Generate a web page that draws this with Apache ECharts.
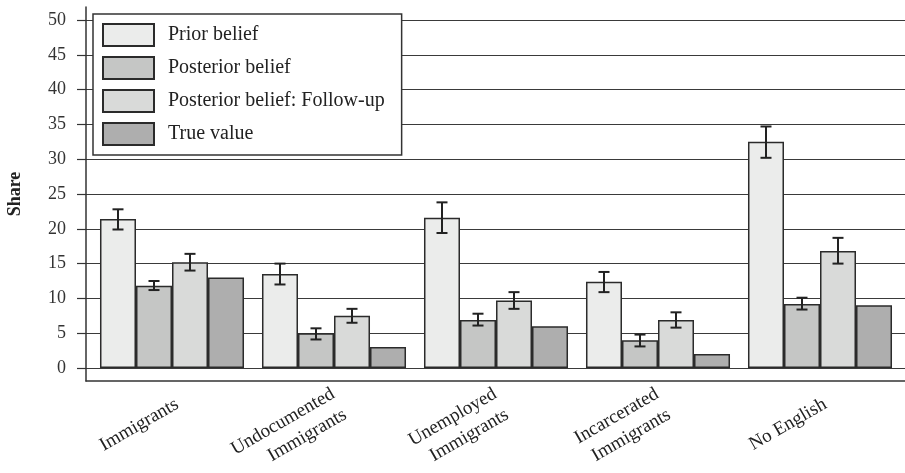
<!DOCTYPE html>
<html>
<head>
<meta charset="utf-8">
<script src="https://cdn.jsdelivr.net/npm/echarts@6/dist/echarts.min.js"></script>
<style>
  html, body { margin: 0; padding: 0; background: #fff; }
  #chart { width: 905px; height: 473px; }
</style>
</head>
<body>
<div id="chart"></div>
<script>
// Categories and series values (share, percent)
const categories = ['Immigrants', 'Undocumented\nImmigrants', 'Unemployed\nImmigrants', 'Incarcerated\nImmigrants', 'No English'];
const seriesNames = ['Prior belief', 'Posterior belief', 'Posterior belief: Follow-up', 'True value'];

const priorBelief = [21.4, 13.5, 21.6, 12.4, 32.5];
const priorLow    = [19.9, 12.0, 19.4, 10.9, 30.2];
const priorHigh   = [22.8, 15.0, 23.8, 13.8, 34.7];

const posteriorBelief = [11.8, 5.0, 6.9, 4.0, 9.2];
const posteriorLow    = [11.2, 4.1, 6.1, 3.1, 8.4];
const posteriorHigh   = [12.5, 5.7, 7.8, 4.8, 10.1];

const followUpBelief = [15.2, 7.5, 9.7, 6.9, 16.8];
const followUpLow    = [14.0, 6.5, 8.5, 5.8, 15.0];
const followUpHigh   = [16.4, 8.5, 10.9, 8.0, 18.7];

const trueValue = [13, 3, 6, 2, 9];

const yTicks = [0, 5, 10, 15, 20, 25, 30, 35, 40, 45, 50];

const FONT = "'Liberation Serif', 'DejaVu Serif', serif";
const colors = ['#ebeceb', '#c5c6c5', '#d9dad9', '#aeaeae'];
const BAR_GAP_RATIO = 0.111;

const chart = echarts.init(document.getElementById('chart'));

function barSeries(name, data, color) {
  return {
    name: name,
    type: 'bar',
    xAxisIndex: 0,
    yAxisIndex: 0,
    data: data,
    barGap: '0%',
    barCategoryGap: (BAR_GAP_RATIO * 100) + '%',
    itemStyle: { color: color, borderColor: '#2b2b2b', borderWidth: 1.5 },
    emphasis: { disabled: true },
    z: 3
  };
}

// Whisker drawn at the position of bar `barIdx` within each category
function errorSeries(barIdx, low, high) {
  const data = low.map((lo, i) => [i, lo, high[i]]);
  return {
    type: 'custom',
    xAxisIndex: 0,
    yAxisIndex: 0,
    data: data,
    z: 5,
    silent: true,
    renderItem: function (params, api) {
      const idx = api.value(0);
      const band = api.size([1, 0])[0];
      const groupW = band * (1 - BAR_GAP_RATIO);
      const barW = groupW / 4;
      const offset = -groupW / 2 + barW * (barIdx + 0.5);
      const pLow = api.coord([idx, api.value(1)]);
      const pHigh = api.coord([idx, api.value(2)]);
      const x = pLow[0] + offset;
      const cap = 5.5;
      const style = { stroke: '#222', lineWidth: 2 };
      return {
        type: 'group',
        children: [
          { type: 'line', shape: { x1: x, y1: pLow[1], x2: x, y2: pHigh[1] }, style: style },
          { type: 'line', shape: { x1: x - cap, y1: pLow[1], x2: x + cap, y2: pLow[1] }, style: style },
          { type: 'line', shape: { x1: x - cap, y1: pHigh[1], x2: x + cap, y2: pHigh[1] }, style: style }
        ]
      };
    }
  };
}

const option = {
  backgroundColor: '#fff',
  animation: false,
  textStyle: { fontFamily: FONT },
  legend: {
    orient: 'vertical',
    left: 93,
    top: 14,
    padding: [9, 17, 9, 9],
    itemWidth: 51,
    itemHeight: 22,
    itemGap: 9,
    backgroundColor: '#fff',
    borderColor: '#333',
    borderWidth: 1.5,
    borderRadius: 0,
    icon: 'rect',
    selectedMode: false,
    z: 10,
    data: seriesNames,
    textStyle: { fontFamily: FONT, fontSize: 20, lineHeight: 22, color: '#222', padding: [0, 0, 0, 9] }
  },
  grid: [
    // bars
    { left: 91, right: 4, top: 20, bottom: 105, outerBoundsMode: 'none', containLabel: false },
    // gridlines and value labels
    { left: 86, right: 0, top: 20, bottom: 105, outerBoundsMode: 'none', containLabel: false },
    // outer frame
    { left: 86, right: 0, top: 7, bottom: 92, outerBoundsMode: 'none', containLabel: false }
  ],
  xAxis: [
    {
      type: 'category', gridIndex: 0, data: categories,
      axisLine: { show: false }, axisTick: { show: false },
      axisLabel: {
        rotate: 30, margin: 38, fontFamily: FONT, fontSize: 19, color: '#222',
        lineHeight: 24, align: 'right', interval: 0, padding: [0, -6, 0, 0]
      }
    },
    { type: 'value', gridIndex: 1, show: false },
    {
      type: 'value', gridIndex: 2, min: 0, max: 1,
      axisLine: { show: true, onZero: false, lineStyle: { color: '#333', width: 1.5 } },
      axisTick: { show: false }, axisLabel: { show: false }, splitLine: { show: false }
    }
  ],
  yAxis: [
    { type: 'value', gridIndex: 0, min: 0, max: 50, interval: 5, show: false },
    {
      type: 'value', gridIndex: 1, min: yTicks[0], max: yTicks[yTicks.length - 1], interval: 5,
      name: 'Share', nameLocation: 'middle', nameGap: 62,
      nameTextStyle: { fontFamily: FONT, fontSize: 18, fontWeight: 'bold', color: '#222' },
      axisLine: { show: false },
      axisTick: { show: true, inside: false, length: 9, lineStyle: { color: '#333', width: 1.2 } },
      axisLabel: { fontFamily: FONT, fontSize: 18, color: '#333', margin: 20 },
      splitLine: { show: true, lineStyle: { color: '#3a3a3a', width: 1.2 } }
    },
    {
      type: 'value', gridIndex: 2, min: 0, max: 1,
      axisLine: { show: true, onZero: false, lineStyle: { color: '#333', width: 1.5 } },
      axisTick: { show: false }, axisLabel: { show: false }, splitLine: { show: false }
    }
  ],
  series: [
    barSeries(seriesNames[0], priorBelief, colors[0]),
    barSeries(seriesNames[1], posteriorBelief, colors[1]),
    barSeries(seriesNames[2], followUpBelief, colors[2]),
    barSeries(seriesNames[3], trueValue, colors[3]),
    errorSeries(0, priorLow, priorHigh),
    errorSeries(1, posteriorLow, posteriorHigh),
    errorSeries(2, followUpLow, followUpHigh)
  ]
};

chart.setOption(option);
</script>
</body>
</html>
